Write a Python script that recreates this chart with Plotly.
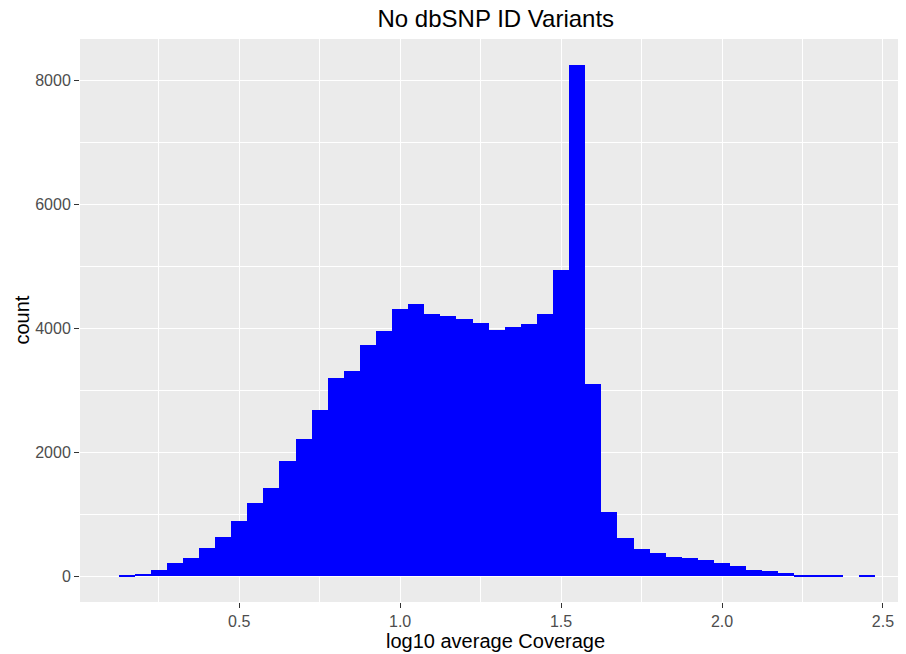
import plotly.graph_objects as go

# Histogram bins (centers, binwidth 0.05)
bin_centers = [0.15, 0.20, 0.25, 0.30, 0.35, 0.40, 0.45, 0.50, 0.55, 0.60,
               0.65, 0.70, 0.75, 0.80, 0.85, 0.90, 0.95, 1.00, 1.05, 1.10,
               1.15, 1.20, 1.25, 1.30, 1.35, 1.40, 1.45, 1.50, 1.55, 1.60,
               1.65, 1.70, 1.75, 1.80, 1.85, 1.90, 1.95, 2.00, 2.05, 2.10,
               2.15, 2.20, 2.25, 2.30, 2.35, 2.40, 2.45]
counts = [15, 35, 110, 210, 290, 457, 640, 887, 1183, 1419,
          1855, 2210, 2689, 3194, 3312, 3731, 3963, 4312, 4398, 4231,
          4199, 4150, 4081, 3979, 4025, 4074, 4234, 4935, 8250, 3106,
          1045, 624, 447, 382, 317, 290, 263, 210, 172, 108,
          86, 48, 27, 25, 15, 0, 12]
binwidth = 0.05

x_tickvals = [0.5, 1.0, 1.5, 2.0, 2.5]
x_ticktext = ["0.5", "1.0", "1.5", "2.0", "2.5"]
x_minorvals = [0.25, 0.75, 1.25, 1.75, 2.25]
y_tickvals = [0, 2000, 4000, 6000, 8000]
y_ticktext = ["0", "2000", "4000", "6000", "8000"]
y_minorvals = [1000, 3000, 5000, 7000]

FONT = "Liberation Sans, Arial, Helvetica, sans-serif"

# page has an 8px body margin, so the figure is sized to fit the 906x654 window
W, H = 898, 646
ML, MR, MT, MB = 72, 1, 31, 52
PW, PH = W - ML - MR, H - MT - MB

fig = go.Figure(go.Bar(
    x=bin_centers, y=counts, width=[binwidth] * len(bin_centers),
    marker=dict(color="#0000FF", line=dict(width=0)),
))

axis_common = dict(
    showgrid=True, gridcolor="white", gridwidth=1.1,
    zeroline=False, showline=False,
    ticks="outside", ticklen=5, tickwidth=1, tickcolor="#333333",
    tickfont=dict(family=FONT, size=16, color="#4D4D4D"),
)

fig.update_layout(
    width=W, height=H,
    margin=dict(l=ML, r=MR, t=MT, b=MB, autoexpand=False),
    paper_bgcolor="white", plot_bgcolor="#EBEBEB",
    bargap=0, showlegend=False,
    font=dict(family=FONT),
    title=dict(text="No dbSNP ID Variants", x=0.504, xref="paper", xanchor="center",
               y=1 - 11 / H, yref="container", yanchor="middle",
               font=dict(family=FONT, size=24, color="black")),
    xaxis=dict(range=[0.0054, 2.5684], tickmode="array", tickvals=x_tickvals, ticktext=x_ticktext,
               minor=dict(tickmode="array", tickvals=x_minorvals, showgrid=True,
                          gridcolor="white", gridwidth=0.5, ticks=""),
               **axis_common),
    yaxis=dict(range=[-412, 8662], tickmode="array", tickvals=y_tickvals, ticktext=y_ticktext,
               minor=dict(tickmode="array", tickvals=y_minorvals, showgrid=True,
                          gridcolor="white", gridwidth=0.5, ticks=""),
               **axis_common),
    annotations=[
        dict(text="log10 average Coverage", xref="paper", yref="paper", x=0.504, y=-39 / PH,
             xanchor="center", yanchor="middle", showarrow=False,
             font=dict(family=FONT, size=20, color="black")),
        dict(text="count", xref="paper", yref="paper", x=-59 / PW, y=0.5, textangle=-90,
             xanchor="center", yanchor="middle", showarrow=False,
             font=dict(family=FONT, size=20, color="black")),
    ],
)

fig.write_html("out.html")
